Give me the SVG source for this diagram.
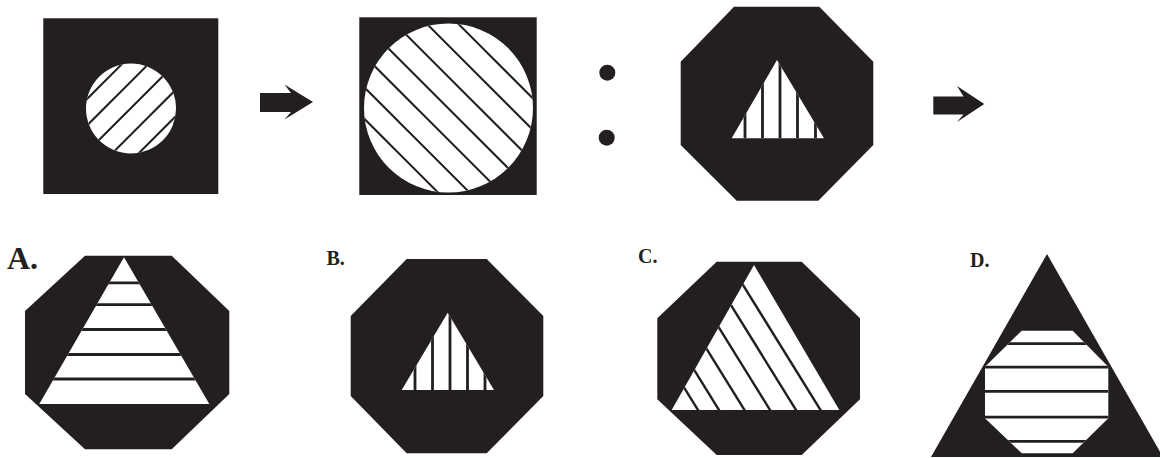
<svg xmlns="http://www.w3.org/2000/svg" width="1160" height="458" viewBox="0 0 1160 458">
<style>
.blk{fill:#231f20}
.wht{fill:#ffffff}
.h2{stroke:#231f20;stroke-width:2;fill:none}
.h3{stroke:#231f20;stroke-width:2.8;fill:none}
.lbl{font-family:"Liberation Serif",serif;font-weight:bold;fill:#231f20}
</style>
<defs>
<clipPath id="c1"><circle cx="131" cy="108.5" r="45"/></clipPath>
<clipPath id="c2"><circle cx="448.5" cy="108" r="84.5"/></clipPath>
<clipPath id="c3"><polygon points="777,60 731.7,138.3 824,138.3"/></clipPath>
<clipPath id="cA"><polygon points="124,257.3 39.3,404 209.3,404"/></clipPath>
<clipPath id="cB"><polygon points="447.7,312.7 401.7,390 494,390"/></clipPath>
<clipPath id="cC"><polygon points="754,265 671.7,410 839.3,410"/></clipPath>
<clipPath id="cD"><polygon points="1021.7,330.7 1072.7,330.7 1108.3,366.7 1108.3,418.3 1072.7,453.3 1021.7,453.3 985,418.3 985,366.7"/></clipPath>
</defs>

<g id="fig1">
<rect class="blk" x="43.3" y="18.3" width="175" height="175.7"/>
<circle class="wht" cx="131" cy="108.5" r="45"/>
<g clip-path="url(#c1)" class="h2">
<line x1="16" y1="170" x2="146" y2="40"/>
<line x1="42.5" y1="170" x2="172.5" y2="40"/>
<line x1="69" y1="170" x2="199" y2="40"/>
<line x1="95.5" y1="170" x2="225.5" y2="40"/>
<line x1="122" y1="170" x2="252" y2="40"/>
</g>
</g>

<g id="fig2">
<rect class="blk" x="359.3" y="17.3" width="177.4" height="177.7"/>
<circle class="wht" cx="448.5" cy="108" r="84.5"/>
<g clip-path="url(#c2)" class="h2">
<line x1="255.5" y1="10" x2="455.5" y2="210"/>
<line x1="287" y1="10" x2="487" y2="210"/>
<line x1="318.5" y1="10" x2="518.5" y2="210"/>
<line x1="350" y1="10" x2="550" y2="210"/>
<line x1="381.5" y1="10" x2="581.5" y2="210"/>
<line x1="413" y1="10" x2="613" y2="210"/>
<line x1="444.5" y1="10" x2="644.5" y2="210"/>
</g>
</g>

<g id="dots">
<circle class="blk" cx="607.3" cy="72.7" r="8"/>
<circle class="blk" cx="606.7" cy="137.7" r="8"/>
</g>

<g id="fig3">
<polygon class="blk" points="734,6.7 819.3,6.7 873.3,61.7 873.3,145 818.3,200.7 736.7,200.7 680.7,145 680.7,61.7"/>
<polygon class="wht" points="777,60 731.7,138.3 824,138.3"/>
<g clip-path="url(#c3)" class="h3">
<line x1="745" y1="50" x2="745" y2="145"/>
<line x1="762.5" y1="50" x2="762.5" y2="145"/>
<line x1="780" y1="50" x2="780" y2="145"/>
<line x1="797.5" y1="50" x2="797.5" y2="145"/>
<line x1="815.5" y1="50" x2="815.5" y2="145"/>
</g>
</g>

<g id="arrows">
<polygon class="blk" points="260,93 291,93 284.5,84.5 313,102 284.5,119.5 291,112 260,112"/>
<polygon class="blk" points="933.3,96.5 963.5,96.5 957,86 984.3,104 957,122 963.5,114.5 933.3,114.5"/>
</g>

<g id="optA">
<text class="lbl" x="7" y="269.3" font-size="32">A.</text>
<polygon class="blk" points="85,255.7 171.7,255.7 229.3,311 229.3,394 171.7,449.3 85,449.3 25,394 25,311"/>
<polygon class="wht" points="124,257.3 39.3,404 209.3,404"/>
<g clip-path="url(#cA)" class="h3">
<line x1="20" y1="282.8" x2="230" y2="282.8"/>
<line x1="20" y1="304.7" x2="230" y2="304.7"/>
<line x1="20" y1="329.5" x2="230" y2="329.5"/>
<line x1="20" y1="354.5" x2="230" y2="354.5"/>
<line x1="20" y1="379" x2="230" y2="379"/>
</g>
</g>

<g id="optB">
<text class="lbl" x="326.5" y="265" font-size="20">B.</text>
<polygon class="blk" points="406.7,259 486.7,259 543.3,316 543.3,396 486.7,453.3 406.7,453.3 350.7,396 350.7,316"/>
<polygon class="wht" points="447.7,312.7 401.7,390 494,390"/>
<g clip-path="url(#cB)" class="h3">
<line x1="415" y1="300" x2="415" y2="395"/>
<line x1="432.5" y1="300" x2="432.5" y2="395"/>
<line x1="450" y1="300" x2="450" y2="395"/>
<line x1="467.5" y1="300" x2="467.5" y2="395"/>
<line x1="485" y1="300" x2="485" y2="395"/>
</g>
</g>

<g id="optC">
<text class="lbl" x="638" y="263.3" font-size="20">C.</text>
<polygon class="blk" points="716.7,261.7 801.7,261.7 860,318.3 860,399.3 801.7,455 716.7,455 657.3,399.3 657.3,318.3"/>
<polygon class="wht" points="754,265 671.7,410 839.3,410"/>
<g clip-path="url(#cC)" class="h3" style="stroke-width:2.4">
<line x1="704.2" y1="420" x2="574" y2="210"/>
<line x1="725.2" y1="420" x2="595" y2="210"/>
<line x1="750.7" y1="420" x2="620.5" y2="210"/>
<line x1="776.2" y1="420" x2="646" y2="210"/>
<line x1="802.2" y1="420" x2="672" y2="210"/>
<line x1="826.7" y1="420" x2="696.5" y2="210"/>
</g>
</g>

<g id="optD">
<text class="lbl" x="970" y="267" font-size="20">D.</text>
<polygon class="blk" points="1047,254 931,457 1163,457"/>
<polygon class="wht" points="1021.7,330.7 1072.7,330.7 1108.3,366.7 1108.3,418.3 1072.7,453.3 1021.7,453.3 985,418.3 985,366.7"/>
<g clip-path="url(#cD)" class="h3">
<line x1="980" y1="343.7" x2="1115" y2="343.7"/>
<line x1="980" y1="367.2" x2="1115" y2="367.2"/>
<line x1="980" y1="391.3" x2="1115" y2="391.3"/>
<line x1="980" y1="417.2" x2="1115" y2="417.2"/>
<line x1="980" y1="441.3" x2="1115" y2="441.3"/>
</g>
</g>
</svg>
